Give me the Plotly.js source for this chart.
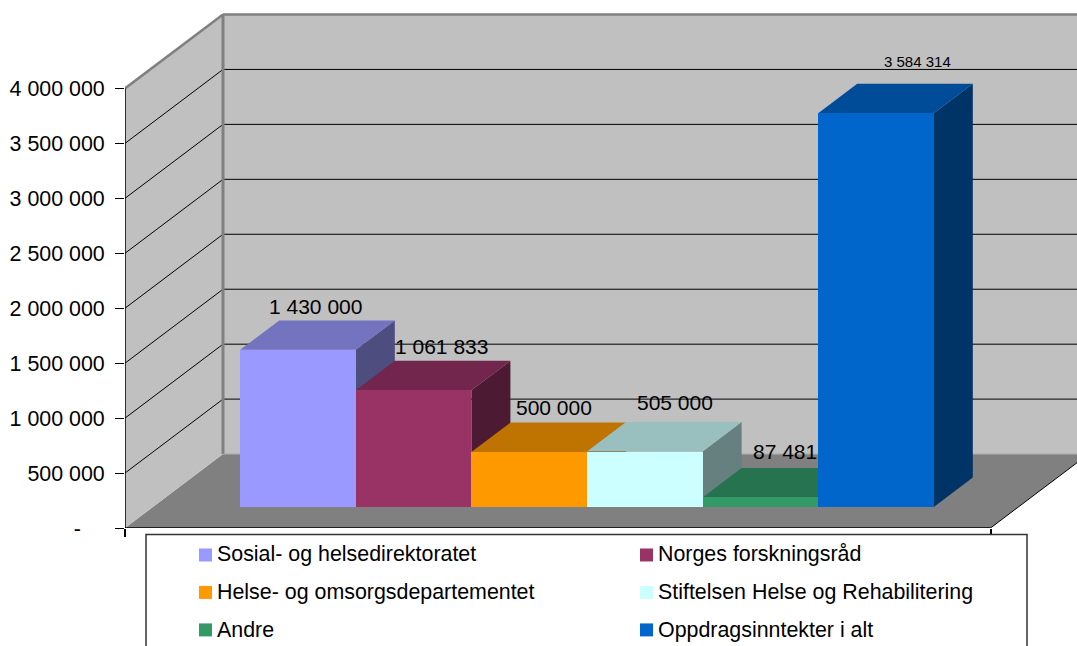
<!DOCTYPE html>
<html>
<head>
<meta charset="utf-8">
<script src="https://cdn.plot.ly/plotly-3.0.1.min.js"></script>
<style>html,body{margin:0;padding:0;background:#fff;overflow:hidden}#chart{width:1077px;height:646px}</style>
</head>
<body>
<div id="chart"></div>
<script>
const categories = ["Sosial- og helsedirektoratet","Norges forskningsråd","Helse- og omsorgsdepartementet","Stiftelsen Helse og Rehabilitering","Andre","Oppdragsinntekter i alt"];
const values = [1430000,1061833,500000,505000,87481,3584314];
const tickValues = [0,500000,1000000,1500000,2000000,2500000,3000000,3500000,4000000];

const frontColors = ["#9999ff","#993366","#ff9900","#ccffff","#339966","#0066cc"];
const topColors   = ["#7373bf","#73264d","#bf7300","#99bfbf","#267350","#004c99"];
const sideColors  = ["#4d4d80","#4d1a33","#804d00","#668080","#1a4d33","#003366"];

// page geometry (pixels)
const W=1077,H=646,L=125,T=10,B=528.5;
const PXV=110/1e6;            // pixels per value unit
const PXC=115.6;              // pixels per category
const X0=298;                 // pixel centre of first category
const xRange=[(L-X0)/PXC,(W-X0)/PXC];
const yRange=[0,(B-T)/PXV];
const dxU=px=>px/PXC, dyU=px=>px/PXV;
const px=v=>(v-L)/(W-L), paperY=v=>(B-v)/(B-T);

const wallDX=dxU(98), wallDY=dyU(74);
const barDX=dxU(39), barDY=dyU(29.5);
const barBase=dyU(21);
const xLeft=xRange[0], xFloorRight=(990.5-X0)/PXC;
const yMax=tickValues[tickValues.length-1];

const traces=[];
// top and side faces, left to right
values.forEach((v,i)=>{
  const a=i-0.5,b=i+0.5,t=barBase+v;
  traces.push({type:"scatter",mode:"lines",x:[b,b+barDX,b+barDX,b,b],y:[barBase,barBase+barDY,t+barDY,t,barBase],
    fill:"toself",fillcolor:sideColors[i],line:{width:0},showlegend:false,hoverinfo:"skip"});
  traces.push({type:"scatter",mode:"lines",x:[a,b,b+barDX,a+barDX,a],y:[t,t,t+barDY,t+barDY,t],
    fill:"toself",fillcolor:topColors[i],line:{width:0},showlegend:false,hoverinfo:"skip"});
});
// front faces above everything
categories.forEach((c,i)=>{
  traces.push({type:"bar",name:c,x:[i],y:[values[i]],base:[barBase],width:[1],xaxis:"x2",yaxis:"y2",
    marker:{color:frontColors[i],line:{width:0}},showlegend:false});
});

const shapes=[];
const path=(pts)=>"M"+pts.map(p=>p[0]+","+p[1]).join("L")+"Z";
const xb=xLeft+wallDX;
// floor
shapes.push({type:"path",xref:"x",yref:"y",layer:"below",path:path([[xLeft,0],[xb,wallDY],[xFloorRight+wallDX,wallDY],[xFloorRight,0]]),fillcolor:"#808080",line:{width:0}});
// left wall
shapes.push({type:"path",xref:"x",yref:"y",layer:"below",path:path([[xLeft,0],[xb,wallDY],[xb,yMax+wallDY],[xLeft,yMax]]),fillcolor:"#c0c0c0",line:{width:0}});
// back wall
shapes.push({type:"path",xref:"x",yref:"y",layer:"below",path:path([[xb,wallDY],[xRange[1],wallDY],[xRange[1],yMax+wallDY],[xb,yMax+wallDY]]),fillcolor:"#c0c0c0",line:{width:0}});
// gridlines
tickValues.slice(1,-1).forEach(v=>{
  shapes.push({type:"line",xref:"x",yref:"y",layer:"below",x0:xLeft,y0:v,x1:xb,y1:v+wallDY,line:{color:"#000",width:1}});
  shapes.push({type:"line",xref:"x",yref:"y",layer:"below",x0:xb,y0:v+wallDY,x1:xRange[1],y1:v+wallDY,line:{color:"#000",width:1}});
});
// wall borders
shapes.push({type:"line",xref:"x",yref:"y",layer:"below",x0:xLeft,y0:yMax,x1:xb,y1:yMax+wallDY,line:{color:"#808080",width:2.5}});
shapes.push({type:"line",xref:"x",yref:"y",layer:"below",x0:xb,y0:yMax+wallDY,x1:xRange[1],y1:yMax+wallDY,line:{color:"#808080",width:2.5}});
shapes.push({type:"line",xref:"x",yref:"y",layer:"below",x0:xb,y0:wallDY,x1:xb,y1:yMax+wallDY,line:{color:"#808080",width:3}});
shapes.push({type:"line",xref:"x",yref:"y",layer:"below",x0:xb,y0:wallDY,x1:xRange[1],y1:wallDY,line:{color:"#a8a8a8",width:1}});
// axis lines
shapes.push({type:"line",xref:"x",yref:"y",layer:"below",x0:xLeft,y0:0,x1:xLeft,y1:yMax,line:{color:"#000",width:1.5}});
shapes.push({type:"line",xref:"x",yref:"y",layer:"below",x0:xLeft,y0:0,x1:xFloorRight,y1:0,line:{color:"#000",width:1.5}});
shapes.push({type:"line",xref:"x",yref:"y",layer:"below",x0:xFloorRight,y0:0,x1:xFloorRight+wallDX,y1:wallDY,line:{color:"#000",width:1}});

// legend
const legendX=[199,640], legendTextX=[215,656], legendY=[555.5,593,630.5], legendTextY=[554.5,593,630.5];
shapes.push({type:"rect",xref:"paper",yref:"paper",x0:px(146),x1:px(1027),y0:paperY(535),y1:paperY(700),fillcolor:"#fff",line:{color:"#333",width:1.5}});
const annotations=[];
categories.forEach((c,i)=>{
  const col=i%2,row=Math.floor(i/2);
  shapes.push({type:"rect",xref:"paper",yref:"paper",x0:px(legendX[col]),x1:px(legendX[col]+13),y0:paperY(legendY[row]-6.5),y1:paperY(legendY[row]+6.5),fillcolor:frontColors[i],line:{width:0}});
  annotations.push({xref:"paper",yref:"paper",x:px(legendTextX[col]),y:paperY(legendTextY[row]),text:c,showarrow:false,xanchor:"left",yanchor:"middle",
    font:{family:"Liberation Sans",size:21.4,color:"#000"}});
});
// data labels
const fmt=v=>String(v).replace(/\B(?=(\d{3})+(?!\d))/g," ");
const labelDX=[17,28,25,30,25,41], labelDY=[43,44,45,49,46,52], labelSize=[21,21,21,21,21,15];
values.forEach((v,i)=>{
  annotations.push({xref:"x",yref:"y",x:i,y:barBase+v,text:fmt(v),showarrow:false,xanchor:"center",yanchor:"middle",
    xshift:labelDX[i],yshift:labelDY[i],font:{family:"Liberation Sans",size:labelSize[i],color:"#000"}});
});

const tickText=tickValues.map(v=>v===0?"-\u00a0\u00a0\u00a0\u00a0":fmt(v));
const layout={
  width:W,height:H,margin:{l:L,r:0,t:T,b:H-B,pad:0},
  paper_bgcolor:"#fff",plot_bgcolor:"rgba(0,0,0,0)",showlegend:false,bargap:0,
  font:{family:"Liberation Sans",size:21,color:"#000"},
  xaxis:{range:xRange,type:"linear",showgrid:false,zeroline:false,showline:false,fixedrange:true,
    tickmode:"array",tickvals:[xLeft+0.0001,xFloorRight],ticktext:["",""],ticks:"outside",ticklen:8,tickcolor:"#000",tickwidth:1.5,showticklabels:false},
  yaxis:{range:yRange,type:"linear",showgrid:false,zeroline:false,showline:false,fixedrange:true,
    tickmode:"array",tickvals:tickValues,ticktext:tickText,ticks:"outside",ticklen:9,tickcolor:"#000",tickwidth:1,ticklabelstandoff:6,
    tickfont:{family:"Liberation Sans",size:21.4,color:"#000"}},
  xaxis2:{range:xRange,type:"linear",overlaying:"x",visible:false,fixedrange:true},
  yaxis2:{range:yRange,type:"linear",overlaying:"y",visible:false,fixedrange:true},
  shapes,annotations
};
Plotly.newPlot("chart",traces,layout,{displayModeBar:false,responsive:false});
</script>
</body>
</html>
